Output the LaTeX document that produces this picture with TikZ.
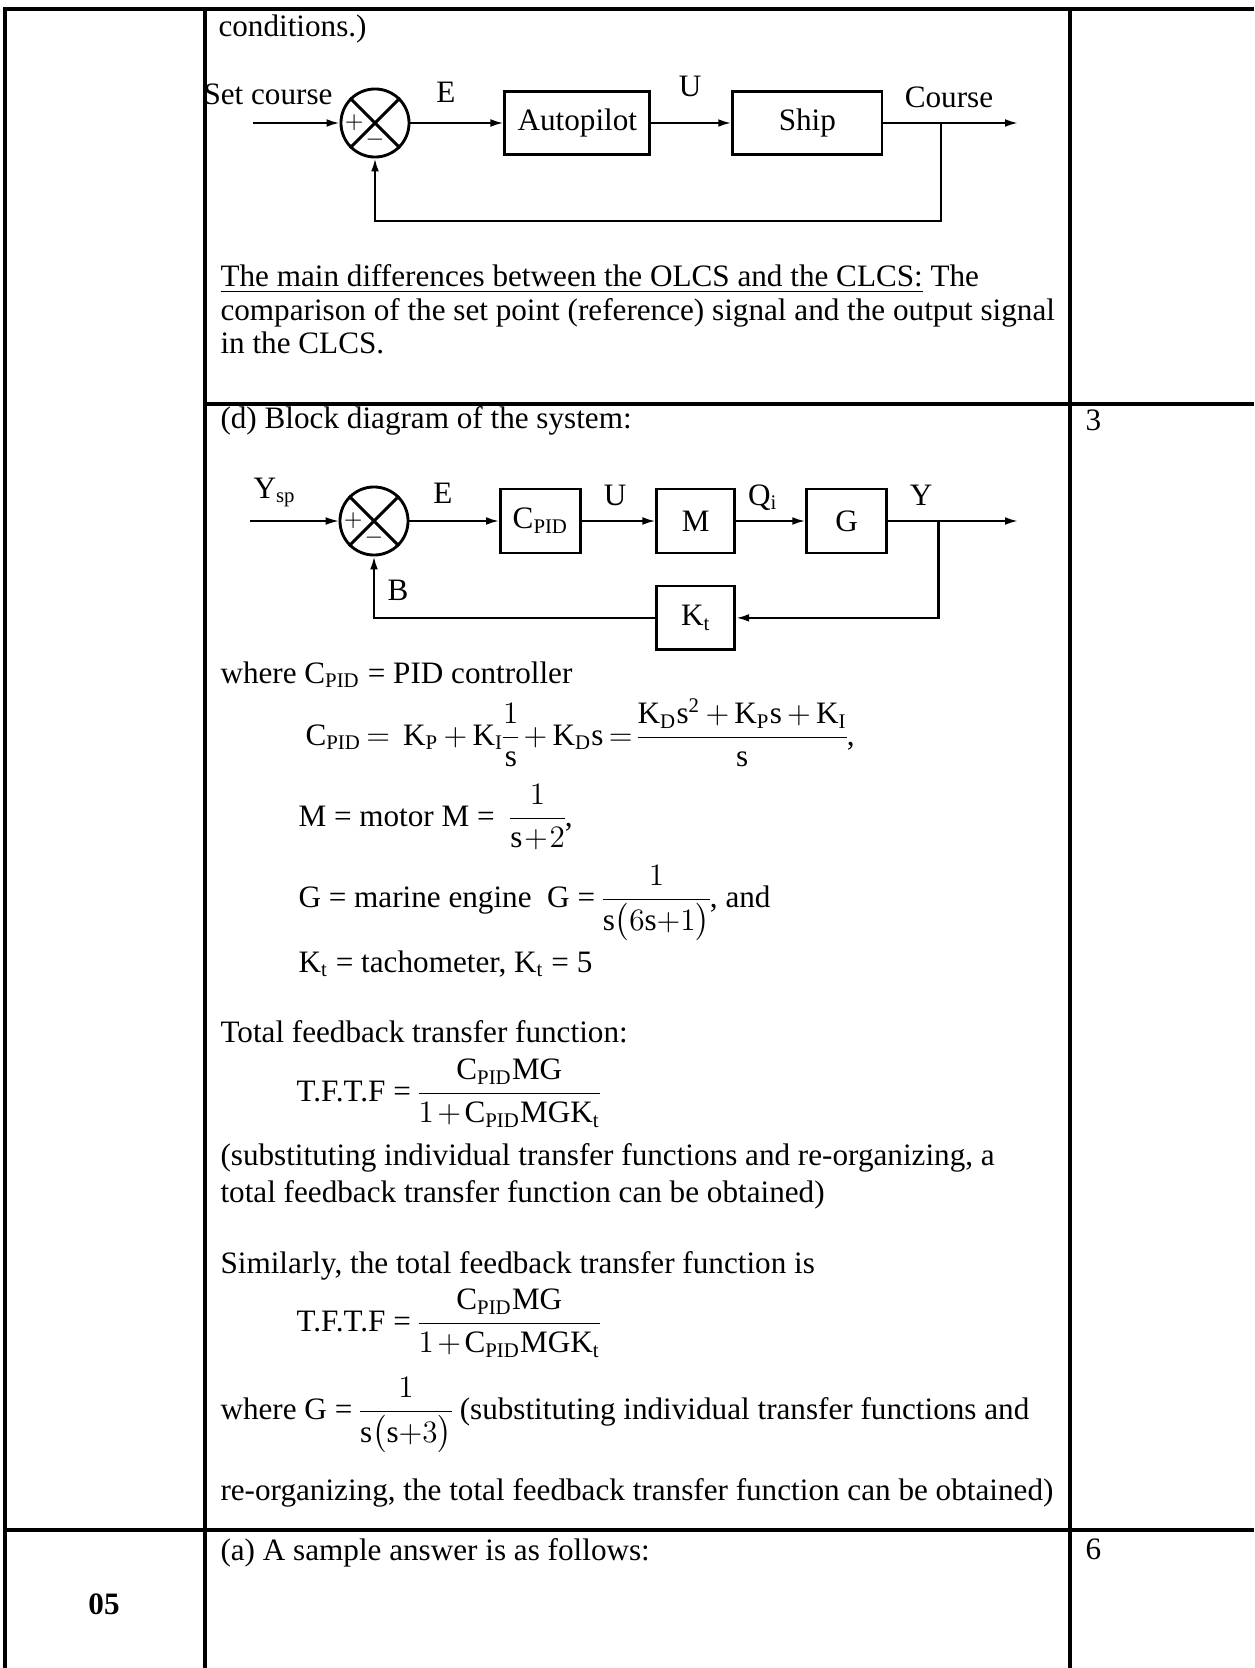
\documentclass[tikz,border=0pt]{standalone}
\usepackage{amsmath}
\usepackage{fontspec}
\setmainfont{Liberation Serif}
\usetikzlibrary{positioning,arrows.meta}
\nulldelimiterspace=0pt

\begin{document}
\begin{tikzpicture}[x=0.385pt, y=-0.385pt,
    every node/.style={font=\fontsize{12pt}{14pt}\selectfont, inner sep=0pt},
    txt/.style={anchor=base west},
    grid/.style={line width=1.2pt},
    blockbox/.style={draw, line width=1.1pt, minimum height=24.3pt},
    sumnode/.style={draw, circle, line width=1.1pt, minimum size=26.2pt},
    sig/.style={line width=0.8pt, -{Latex[length=5pt,width=3pt]}},
    sign/.style={font=\fontsize{9pt}{10pt}\selectfont}]

    \useasboundingbox (0,0) rectangle (1254,1668);

    \draw[grid] (5,1668) -- (5,9) -- (1254,9);
    \draw[grid] (205,9) -- (205,1668);
    \draw[grid] (1070,9) -- (1070,1668);
    \draw[grid] (205,404) -- (1254,404);
    \draw[grid, line width=1.6pt] (5,1530) -- (1254,1530);

    \node[txt] (cond) at (218,37) {conditions.)};

    \node[sumnode] (sum1) at (375,123) {};
    \draw[line width=1.1pt] (sum1.north west) -- (sum1.south east) (sum1.north east) -- (sum1.south west);
    \node[sign] (plus1) at ([xshift=-8pt]sum1.center) {$+$};
    \node[sign] (minus1) at ([yshift=-6.5pt]sum1.center) {$-$};
    \node[blockbox, minimum width=55.8pt, right=35.8pt of sum1] (autopilot) {Autopilot};
    \node[blockbox, minimum width=57.5pt, right=30.8pt of autopilot] (ship) {Ship};
    \coordinate (setin) at (253,123);
    \coordinate (course) at (1018,123);
    \coordinate (tap1) at (941,123);
    \coordinate (fb1) at (375,221);

    \draw[sig] (setin) -- (sum1);
    \draw[sig] (sum1) -- (autopilot);
    \draw[sig] (autopilot) -- (ship);
    \draw[sig] (ship) -- (course);
    \draw[sig] (tap1) |- (fb1) -- (sum1);

    \node[txt] (setlbl) at (203,105) {Set course};
    \node[anchor=base] (elbl1) at (446,103) {E};
    \node[anchor=base] (ulbl1) at (690,97) {U};
    \node[anchor=base] (courselbl) at (949,108) {Course};

    \node[txt] (diff1) at (220,287) {\underline{The main differences between the OLCS and the CLCS:} The};
    \node[txt] (diff2) at (220,320) {comparison of the set point (reference) signal and the output signal};
    \node[txt] (diff3) at (220,353) {in the CLCS.};

    \node[txt] (partd) at (220,428) {(d) Block diagram of the system:};
    \node[txt] (mark3) at (1085,430) {3};

    \node[sumnode] (sum2) at (374,521) {};
    \draw[line width=1.1pt] (sum2.north west) -- (sum2.south east) (sum2.north east) -- (sum2.south west);
    \node[sign] (plus2) at ([xshift=-8pt]sum2.center) {$+$};
    \node[sign] (minus2) at ([yshift=-6.5pt]sum2.center) {$-$};
    \node[blockbox, minimum width=30.8pt, minimum height=24.6pt, right=34.5pt of sum2] (cpid) {$\mathrm{C_{PID}}$};
    \node[blockbox, minimum width=30pt, minimum height=24.6pt, right=28.3pt of cpid] (motor) {M};
    \node[blockbox, minimum width=30.8pt, minimum height=24.6pt, right=26.6pt of motor] (engine) {G};
    \node[blockbox, minimum width=30pt, minimum height=24.6pt, below=11.6pt of motor] (tacho) {$\mathrm{K_t}$};
    \coordinate (ysp) at (250,521);
    \coordinate (yout) at (1018,521);
    \coordinate (tap2) at (938.5,521);

    \draw[sig, line width=0.45pt] (ysp) -- (sum2);
    \draw[sig] (sum2) -- (cpid);
    \draw[sig] (cpid) -- (motor);
    \draw[sig] (motor) -- (engine);
    \draw[sig] (engine) -- (yout);
    \draw[sig] (tap2) |- (tacho);
    \draw[sig] (tacho) -| (sum2);

    \node[txt] (ysplbl) at (253,498) {$\mathrm{Y_{sp}}$};
    \node[anchor=base] (elbl2) at (443,503) {E};
    \node[anchor=base] (ulbl2) at (615,505) {U};
    \node[anchor=base] (qlbl) at (763,505) {$\mathrm{Q_i}$};
    \node[anchor=base] (ylbl) at (921,505) {Y};
    \node[anchor=base] (blbl) at (398,600) {B};

    \node[txt] (whereC) at (220,683) {where $\mathrm{C_{PID}}$ = PID controller};
    \node[txt] (eqC) at (305,745) {$\medmuskip=3mu\thickmuskip=3mu\mathrm{C_{PID}} = \ \mathrm{K_P} + \mathrm{K_I}\dfrac{1}{\mathrm{s}} + \mathrm{K_D s} = \dfrac{\mathrm{K_D s^2} + \mathrm{K_P s} + \mathrm{K_I}}{\mathrm{s}}$,};
    \node[txt] (eqM) at (298,826) {M = motor M = \ $\medmuskip=1mu\dfrac{1}{\mathrm{s}+2}$,};
    \node[txt] (eqG) at (298,907) {G = marine engine\ \ G = $\medmuskip=0mu\dfrac{1}{\mathrm{s}\bigl(6\mathrm{s}+1\bigr)}$, and};
    \node[txt] (eqK) at (298,972) {$\mathrm{K_t}$ = tachometer, $\mathrm{K_t}$ = 5};

    \node[txt] (totlbl) at (220,1042) {Total feedback transfer function:};
    \node[txt] (tftf1) at (296,1101) {T.F.T.F = $\medmuskip=2mu\dfrac{\mathrm{C_{PID}MG}}{1+\mathrm{C_{PID}MGK_t}}$};
    \node[txt] (subs1) at (220,1165) {(substituting individual transfer functions and re-organizing, a};
    \node[txt] (subs2) at (220,1202) {total feedback transfer function can be obtained)};

    \node[txt] (simil) at (220,1273) {Similarly, the total feedback transfer function is};
    \node[txt] (tftf2) at (296,1331) {T.F.T.F = $\medmuskip=2mu\dfrac{\mathrm{C_{PID}MG}}{1+\mathrm{C_{PID}MGK_t}}$};
    \node[txt] (whereG) at (220,1419) {where G = $\medmuskip=0mu\dfrac{1}{\mathrm{s}\bigl(\mathrm{s}+3\bigr)}$\hspace{3pt}(substituting individual transfer functions and};
    \node[txt] (reorg) at (220,1500) {re-organizing, the total feedback transfer function can be obtained)};

    \node[txt] (parta) at (220,1560) {(a) A sample answer is as follows:};
    \node[txt] (mark6) at (1085,1559) {6};
    \node[font=\fontsize{12pt}{14pt}\selectfont\bfseries] (qnum) at (104,1604) {05};
\end{tikzpicture}
\end{document}
